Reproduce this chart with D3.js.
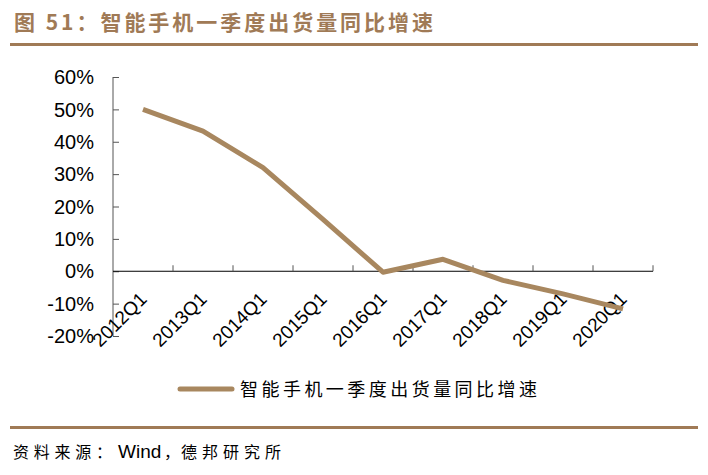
<!DOCTYPE html>
<html>
<head>
<meta charset="utf-8">
<script src="https://cdn.jsdelivr.net/npm/d3@7"></script>
<style>
  body { margin: 0; background: #fff; }
</style>
</head>
<body>
<script>
const width = 708;
const height = 475;
const brown = '#a07a56';
const line_color = '#a8875f';

const categories = ['2012Q1', '2013Q1', '2014Q1', '2015Q1', '2016Q1', '2017Q1', '2018Q1', '2019Q1', '2020Q1'];
const growth = [50, 43.3, 32, 16, -0.3, 3.7, -2.8, -7, -11.6];
const y_ticks = [60, 50, 40, 30, 20, 10, 0, -10, -20];

const title = '图 51：智能手机一季度出货量同比增速';
const series_name = '智能手机一季度出货量同比增速';
const source_parts = ['资料来源：', 'Wind', '，', '德邦研究所'];

const cjk = '"Noto Sans CJK SC", sans-serif';
const latin = '"Liberation Sans", Arial, sans-serif';

const svg = d3.select('body')
    .append('svg')
    .attr('width', width)
    .attr('height', height);

// header
svg.append('text')
    .attr('x', 14)
    .attr('y', 30)
    .attr('font-family', cjk)
    .attr('font-size', 21)
    .attr('font-weight', 'bold')
    .attr('fill', brown)
    .attr('textLength', 419)
    .attr('lengthAdjust', 'spacing')
    .text(title);
svg.append('rect')
    .attr('x', 10).attr('y', 43)
    .attr('width', 688).attr('height', 3)
    .attr('fill', brown);

// footer
svg.append('rect')
    .attr('x', 10).attr('y', 426)
    .attr('width', 688).attr('height', 3)
    .attr('fill', brown);
const src = svg.append('g')
    .attr('font-size', 16)
    .attr('fill', '#000');
src.append('text')
    .attr('x', 13).attr('y', 458)
    .attr('font-family', cjk)
    .attr('textLength', 99)
    .attr('lengthAdjust', 'spacing')
    .text(source_parts[0]);
src.append('text')
    .attr('x', 118).attr('y', 458)
    .attr('font-family', latin)
    .attr('font-size', 19)
    .text(source_parts[1]);
src.append('text')
    .attr('x', 164).attr('y', 458)
    .attr('font-family', cjk)
    .text(source_parts[2]);
src.append('text')
    .attr('x', 181).attr('y', 458)
    .attr('font-family', cjk)
    .attr('textLength', 100)
    .attr('lengthAdjust', 'spacing')
    .text(source_parts[3]);

const x = d3.scaleBand()
    .domain(categories)
    .range([113, 653]);
const y = d3.scaleLinear()
    .domain([-20, 60])
    .range([336, 77]);

// y axis
const y_axis = svg.append('g')
    .attr('transform', `translate(${x.range()[0]},0)`)
    .call(d3.axisRight(y).tickValues(y_ticks).tickSize(6).tickFormat(''));
y_axis.selectAll('line').attr('stroke', '#555');
y_axis.select('.domain').attr('d', `M0,${y(60)}V${y(-20)}`).attr('stroke', '#555');

svg.append('g')
    .selectAll('text')
    .data(y_ticks)
    .enter()
    .append('text')
    .attr('x', 94)
    .attr('y', d => y(d))
    .attr('dy', '0.36em')
    .attr('text-anchor', 'end')
    .attr('font-family', latin)
    .attr('font-size', 20)
    .attr('fill', '#000')
    .text(d => d + '%');

// x axis at 0%
const bounds = categories.map(c => x(c) + x.bandwidth());
const x_axis = svg.append('g');
x_axis.append('line')
    .attr('x1', x.range()[0]).attr('x2', x.range()[1])
    .attr('y1', y(0)).attr('y2', y(0))
    .attr('stroke', '#000');
x_axis.selectAll('.tk')
    .data(bounds)
    .enter()
    .append('line')
    .attr('class', 'tk')
    .attr('x1', d => d).attr('x2', d => d)
    .attr('y1', y(0)).attr('y2', y(0) - 6)
    .attr('stroke', '#555');
x_axis.selectAll('text')
    .data(categories)
    .enter()
    .append('text')
    .attr('transform', d => `translate(${x(d) + x.bandwidth() / 2 + 5},${y(0) + 29}) rotate(-45)`)
    .attr('text-anchor', 'end')
    .attr('font-family', latin)
    .attr('font-size', 19)
    .attr('fill', '#000')
    .text(d => d);

// series line
const line = d3.line()
    .x((d, i) => x(categories[i]) + x.bandwidth() / 2)
    .y(d => y(d));
svg.append('path')
    .attr('d', line(growth))
    .attr('fill', 'none')
    .attr('stroke', line_color)
    .attr('stroke-width', 5)
    .attr('stroke-linejoin', 'round');

// legend
svg.append('line')
    .attr('x1', 180).attr('x2', 232)
    .attr('y1', 389).attr('y2', 389)
    .attr('stroke', line_color)
    .attr('stroke-width', 5)
    .attr('stroke-linecap', 'round');
svg.append('text')
    .attr('x', 240)
    .attr('y', 396)
    .attr('font-family', cjk)
    .attr('font-size', 18)
    .attr('fill', '#000')
    .attr('textLength', 297)
    .attr('lengthAdjust', 'spacing')
    .text(series_name);
</script>
</body>
</html>
